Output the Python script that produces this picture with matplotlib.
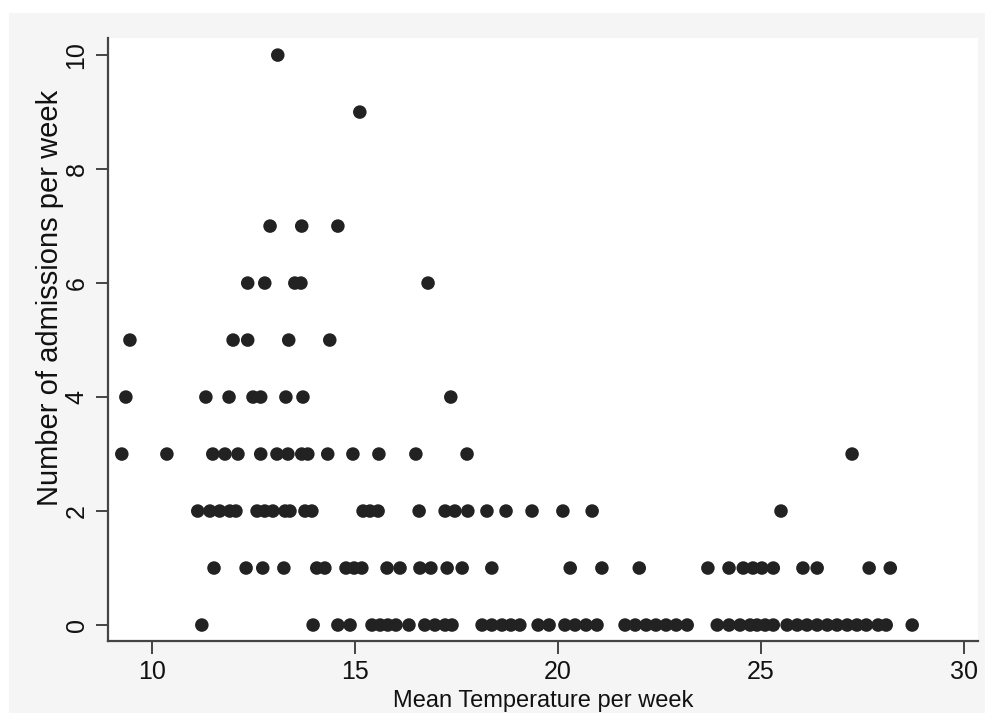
import matplotlib
matplotlib.use("Agg")
import matplotlib.pyplot as plt

plt.rcParams['font.family'] = ['Liberation Sans', 'DejaVu Sans']

# Mean temperature per week, grouped by number of admissions
temp_0 = [11.23, 13.97, 14.58, 14.88, 15.42, 15.62, 15.81, 16.01, 16.33, 16.72,
          16.97, 17.22, 17.39, 18.13, 18.37, 18.62, 18.84, 19.06, 19.51, 19.78,
          20.17, 20.42, 20.69, 20.96, 21.65, 21.90, 22.17, 22.41, 22.66, 22.91,
          23.18, 23.92, 24.21, 24.48, 24.73, 24.90, 25.10, 25.30, 25.64, 25.89,
          26.13, 26.38, 26.63, 26.87, 27.12, 27.36, 27.59, 27.88, 28.08, 28.72]
temp_1 = [11.53, 12.32, 12.73, 13.25, 14.06, 14.26, 14.78, 14.98, 15.17, 15.79,
          16.11, 16.60, 16.87, 17.27, 17.64, 18.37, 20.30, 21.08, 22.00, 23.69,
          24.21, 24.56, 24.80, 25.02, 25.30, 26.03, 26.38, 27.66, 28.18]
temp_2 = [11.13, 11.43, 11.67, 11.92, 12.07, 12.59, 12.78, 12.98, 13.28, 13.40,
          13.77, 13.94, 15.20, 15.37, 15.57, 16.58, 17.22, 17.46, 17.78, 18.25,
          18.72, 19.36, 20.12, 20.84, 25.49]
temp_3 = [9.26, 10.37, 11.50, 11.80, 12.12, 12.68, 13.08, 13.35, 13.69, 13.84,
          14.33, 14.95, 15.59, 16.50, 17.76, 27.24]
temp_4 = [9.36, 11.33, 11.90, 12.49, 12.68, 13.30, 13.72, 17.36]
temp_5 = [9.46, 12.00, 12.36, 13.37, 14.38]
temp_6 = [12.36, 12.78, 13.52, 13.67, 16.80]
temp_7 = [12.91, 13.69, 14.58]
temp_9 = [15.12]
temp_10 = [13.10]

groups = {0: temp_0, 1: temp_1, 2: temp_2, 3: temp_3, 4: temp_4, 5: temp_5,
          6: temp_6, 7: temp_7, 9: temp_9, 10: temp_10}

x_ticks = [10, 15, 20, 25, 30]
y_ticks = [0, 2, 4, 6, 8, 10]
x_label = "Mean Temperature per week"
y_label = "Number of admissions per week"

temps = []
admissions = []
for k, v in groups.items():
    temps.extend(v)
    admissions.extend([k] * len(v))

W, H = 992, 725
fig = plt.figure(figsize=(W / 100, H / 100), dpi=100)
fig.patch.set_facecolor('white')

# grey graph region (background axes)
bg = fig.add_axes([9/W, 1 - 713/H, (985-9)/W, (713-13)/H], zorder=-5)
bg.set_facecolor('#f5f5f5')
bg.set_xticks([])
bg.set_yticks([])
for s in bg.spines.values():
    s.set_visible(False)

ax = fig.add_axes([108/W, 1 - 641/H, (978-108)/W, (641-38)/H], zorder=1)
ax.set_facecolor('white')
ax.scatter(temps, admissions, s=95, color='#222222', edgecolors='none', zorder=3)

ax.set_xlim(8.92, 30.34)
ax.set_ylim(-0.28, 10.30)
ax.set_xticks(x_ticks)
ax.set_yticks(y_ticks)
for s in ['top', 'right']:
    ax.spines[s].set_visible(False)
for s in ['left', 'bottom']:
    ax.spines[s].set_color('#444444')
    ax.spines[s].set_linewidth(1.6)
ax.tick_params(direction='out', length=9, width=1.4, color='#444444',
               labelsize=18, labelcolor='#111111', pad=5)
for lab in ax.get_yticklabels():
    lab.set_rotation(90)
    lab.set_verticalalignment('center')
ax.set_xlabel(x_label, fontsize=17, color='#111111', labelpad=4)
fig.text(50/W, 1 - 298/H, y_label, rotation=90, fontsize=21, color='#111111',
         ha='center', va='center')

fig.savefig('out.png', dpi=100)
